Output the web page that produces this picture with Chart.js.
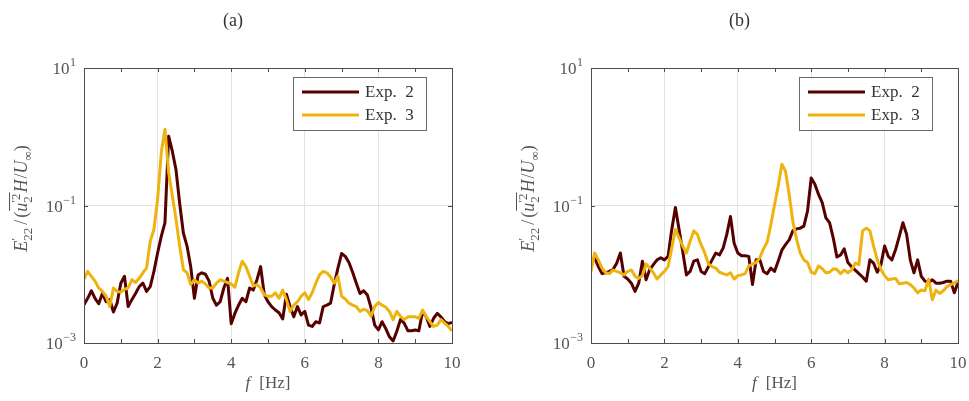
<!DOCTYPE html>
<html>
<head>
<meta charset="utf-8">
<script src="https://cdn.jsdelivr.net/npm/chart.js@4.4.1/dist/chart.umd.min.js"></script>
<style>
  html, body { margin: 0; padding: 0; background: #ffffff; }
  #wrap { position: relative; width: 969px; height: 401px; overflow: hidden; }
  canvas { position: absolute; top: 0; }
</style>
</head>
<body>
<div id="wrap">
  <canvas id="panelA" width="484" height="401" style="left:0px"></canvas>
  <canvas id="panelB" width="485" height="401" style="left:484px"></canvas>
</div>
<script>
// Frequency axis [Hz]
const freq = [
  0.0, 0.1, 0.2, 0.3, 0.4, 0.5, 0.6, 0.7, 0.8, 0.9,
  1.0, 1.1, 1.2, 1.3, 1.4, 1.5, 1.6, 1.7, 1.8, 1.9,
  2.0, 2.1, 2.2, 2.3, 2.4, 2.5, 2.6, 2.7, 2.8, 2.9,
  3.0, 3.1, 3.2, 3.3, 3.4, 3.5, 3.6, 3.7, 3.8, 3.9,
  4.0, 4.1, 4.2, 4.3, 4.4, 4.5, 4.6, 4.7, 4.8, 4.9,
  5.0, 5.1, 5.2, 5.3, 5.4, 5.5, 5.6, 5.7, 5.8, 5.9,
  6.0, 6.1, 6.2, 6.3, 6.4, 6.5, 6.6, 6.7, 6.8, 6.9,
  7.0, 7.1, 7.2, 7.3, 7.4, 7.5, 7.6, 7.7, 7.8, 7.9,
  8.0, 8.1, 8.2, 8.3, 8.4, 8.5, 8.6, 8.7, 8.8, 8.9,
  9.0, 9.1, 9.2, 9.3, 9.4, 9.5, 9.6, 9.7, 9.8, 9.9,
  10.0
];

// (a) normalised spectra
const specA_exp2 = [
  0.00359, 0.00447, 0.00575, 0.00447, 0.00372, 0.00525, 0.00398, 0.00427, 0.00282, 0.00380,
  0.00741, 0.00933, 0.00339, 0.00427, 0.00525, 0.00661, 0.00741, 0.00562, 0.00661, 0.0110,
  0.0204, 0.0355, 0.0562, 1.02, 0.617, 0.331, 0.107, 0.0398, 0.0257, 0.0129,
  0.00447, 0.00977, 0.0105, 0.0100, 0.00794, 0.00447, 0.00355, 0.00398, 0.00631, 0.00871,
  0.00191, 0.00269, 0.00355, 0.00447, 0.00398, 0.00631, 0.00589, 0.00832, 0.0129, 0.00501,
  0.00398, 0.00339, 0.00302, 0.00275, 0.00224, 0.00513, 0.00339, 0.00240, 0.00339, 0.00257,
  0.00288, 0.00182, 0.00174, 0.00204, 0.00195, 0.00339, 0.00355, 0.00380, 0.00708, 0.0123,
  0.0200, 0.0182, 0.0148, 0.0107, 0.00741, 0.00525, 0.00575, 0.00501, 0.00324, 0.00182,
  0.00155, 0.00204, 0.00162, 0.00123, 0.00107, 0.00148, 0.00219, 0.00195, 0.00151, 0.00151,
  0.00155, 0.00151, 0.00288, 0.00240, 0.00174, 0.00229, 0.00269, 0.00240, 0.00204, 0.00191,
  0.00200
];
const specA_exp3 = [
  0.00851, 0.0110, 0.00933, 0.00794, 0.00631, 0.00562, 0.00479, 0.00339, 0.00631, 0.00562,
  0.00550, 0.00603, 0.00631, 0.00832, 0.00759, 0.00871, 0.0105, 0.0123, 0.0302, 0.0447,
  0.123, 0.589, 1.29, 0.302, 0.138, 0.0631, 0.0257, 0.0117, 0.0105, 0.00708,
  0.00832, 0.00741, 0.00794, 0.00724, 0.00631, 0.00631, 0.00741, 0.00832, 0.00794, 0.00759,
  0.00724, 0.00646, 0.0105, 0.0155, 0.0129, 0.00933, 0.00676, 0.00708, 0.00631, 0.00501,
  0.00479, 0.00479, 0.00537, 0.00447, 0.00589, 0.00427, 0.00288, 0.00355, 0.00398, 0.00479,
  0.00537, 0.00427, 0.00537, 0.00741, 0.00977, 0.0110, 0.0105, 0.00912, 0.00741, 0.00933,
  0.00479, 0.00437, 0.00380, 0.00355, 0.00339, 0.00288, 0.00309, 0.00295, 0.00245, 0.00339,
  0.00389, 0.00355, 0.00331, 0.00288, 0.00219, 0.00288, 0.00245, 0.00219, 0.00240, 0.00240,
  0.00240, 0.00229, 0.00302, 0.00240, 0.00204, 0.00174, 0.00182, 0.00219, 0.00195, 0.00174,
  0.00151
];

// (b) normalised spectra
const specB_exp2 = [
  0.0155, 0.0174, 0.0129, 0.0102, 0.0105, 0.0110, 0.0117, 0.0145, 0.0204, 0.00933,
  0.00851, 0.00741, 0.00562, 0.00741, 0.0155, 0.00832, 0.0117, 0.0138, 0.0162, 0.0174,
  0.0162, 0.0182, 0.0447, 0.0933, 0.0447, 0.0214, 0.00977, 0.0110, 0.0155, 0.0162,
  0.0110, 0.0102, 0.0129, 0.0162, 0.0204, 0.0191, 0.0240, 0.0380, 0.0692, 0.0282,
  0.0204, 0.0186, 0.0186, 0.0182, 0.00708, 0.0162, 0.0162, 0.0110, 0.0102, 0.0123,
  0.0110, 0.0155, 0.0224, 0.0269, 0.0316, 0.0427, 0.0457, 0.0468, 0.0501, 0.0832,
  0.251, 0.204, 0.145, 0.110, 0.0661, 0.0562, 0.0339, 0.0178, 0.0191, 0.0234,
  0.0148, 0.0129, 0.0115, 0.0102, 0.00912, 0.00794, 0.0162, 0.0145, 0.0107, 0.0138,
  0.0257, 0.0182, 0.0162, 0.0229, 0.0355, 0.0562, 0.0380, 0.0162, 0.0105, 0.0162,
  0.00933, 0.00794, 0.00759, 0.00832, 0.00741, 0.00741, 0.00759, 0.00794, 0.00794, 0.00537,
  0.00759
];
const specB_exp3 = [
  0.0110, 0.0204, 0.0162, 0.0123, 0.0105, 0.0102, 0.0115, 0.0110, 0.0105, 0.00977,
  0.0110, 0.0115, 0.00933, 0.00871, 0.00955, 0.0141, 0.0123, 0.0105, 0.00851, 0.00977,
  0.0110, 0.0129, 0.0240, 0.0447, 0.0339, 0.0257, 0.0204, 0.0302, 0.0427, 0.0380,
  0.0269, 0.0204, 0.0141, 0.0129, 0.0123, 0.0107, 0.0102, 0.00977, 0.0105, 0.00851,
  0.00955, 0.00977, 0.0102, 0.0132, 0.0141, 0.0148, 0.0174, 0.0234, 0.0295, 0.0525,
  0.102, 0.191, 0.398, 0.316, 0.145, 0.0589, 0.0324, 0.0204, 0.0162, 0.0148,
  0.0107, 0.0102, 0.0132, 0.0120, 0.0105, 0.0107, 0.0120, 0.0117, 0.0102, 0.0115,
  0.0105, 0.0115, 0.0145, 0.0138, 0.0427, 0.0468, 0.0427, 0.0257, 0.0162, 0.0117,
  0.00955, 0.00832, 0.00851, 0.00871, 0.00724, 0.00741, 0.00759, 0.00708, 0.00631, 0.00537,
  0.00589, 0.00575, 0.00851, 0.00427, 0.00589, 0.00525, 0.00575, 0.00661, 0.00708, 0.00741,
  0.00813
];

const seriesLabels = ['Exp. 2', 'Exp. 3'];
const seriesColors = ['#560000', '#EDB40F'];
const yTickValues = [1e-3, 1e-1, 1e1];
const yTickExponents = ['\u22123', '\u22121', '1'];
const xTickValues = [0, 2, 4, 6, 8, 10];

const SERIF = '"Liberation Serif", "DejaVu Serif", serif';
const AXIS_GREY = '#4d4d4d';
const TEXT_GREY = '#555555';
const GRID_GREY = '#e2e2e2';

// Writes a sequence of text runs (with sub/superscripts and an optional overline)
function drawRuns(ctx, runs, size) {
  const small = Math.round(size * 0.7);
  const widths = runs.map(r => {
    if (r.stack) {
      ctx.font = small + 'px ' + SERIF;
      return Math.max(...r.stack.map(s => ctx.measureText(s.t).width)) + 1;
    }
    ctx.font = (r.it ? 'italic ' : '') + (r.small ? small : size) + 'px ' + SERIF;
    return ctx.measureText(r.t).width + (r.gap || 0) + (r.pre || 0);
  });
  const total = widths.reduce((a, b) => a + b, 0);
  let x = -total / 2;
  let barStart = null;
  runs.forEach((r, k) => {
    if (r.barStart) barStart = x;
    if (r.stack) {
      ctx.font = small + 'px ' + SERIF;
      r.stack.forEach(s => ctx.fillText(s.t, x, s.dy));
    } else {
      ctx.font = (r.it ? 'italic ' : '') + (r.small ? small : size) + 'px ' + SERIF;
      ctx.fillText(r.t, x + (r.pre || 0), r.dy || 0);
    }
    x += widths[k];
    if (r.barEnd && barStart !== null) {
      ctx.fillRect(barStart + 1, -size * 1.0, x - barStart - 1, 1);
      barStart = null;
    }
  });
}

const yTitleRuns = [
  { t: 'E', it: true },
  { stack: [{ t: '\u2032', dy: -7 }, { t: '22', dy: 5 }] },
  { t: '/', gap: 2, pre: 2 },
  { t: '(' },
  { t: 'u', it: true, barStart: true },
  { stack: [{ t: '\u20322', dy: -7 }, { t: '2', dy: 5 }], barEnd: true },
  { t: 'H', it: true, gap: 1 },
  { t: '/' },
  { t: 'U', it: true },
  { t: '\u221E', small: true, dy: 5 },
  { t: ')' }
];

// Box, inner ticks, tick labels, titles and legend around the plotting area
const framePlugin = {
  id: 'frame',
  afterDatasetsDraw(chart, args, opts) {
    const { ctx, chartArea: a, scales } = chart;
    const xs = scales.x, ys = scales.y;
    ctx.save();
    // inner tick marks on all four sides
    ctx.strokeStyle = AXIS_GREY;
    ctx.lineWidth = 1;
    ctx.beginPath();
    for (let v = 0; v <= 10; v += 1) {
      const px = Math.round(xs.getPixelForValue(v)) + 0.5;
      ctx.moveTo(px, a.bottom); ctx.lineTo(px, a.bottom - 4);
      ctx.moveTo(px, a.top); ctx.lineTo(px, a.top + 4);
    }
    yTickValues.forEach(v => {
      const py = Math.round(ys.getPixelForValue(v)) + 0.5;
      ctx.moveTo(a.left, py); ctx.lineTo(a.left + 4, py);
      ctx.moveTo(a.right, py); ctx.lineTo(a.right - 4, py);
    });
    ctx.stroke();
    // axes box
    ctx.strokeRect(Math.round(a.left) + 0.5, Math.round(a.top) + 0.5,
      Math.round(a.right - a.left), Math.round(a.bottom - a.top));

    // x tick labels
    ctx.fillStyle = TEXT_GREY;
    ctx.font = '17px ' + SERIF;
    ctx.textAlign = 'center';
    ctx.textBaseline = 'alphabetic';
    xs.ticks.forEach(t => {
      if (xTickValues.includes(t.value)) {
        ctx.fillText(String(t.value), xs.getPixelForValue(t.value), a.bottom + 25);
      }
    });
    // y tick labels as powers of ten
    ys.ticks.forEach(t => {
      const k = yTickValues.indexOf(t.value);
      if (k < 0) return;
      const py = ys.getPixelForValue(t.value);
      ctx.font = '12px ' + SERIF;
      ctx.textAlign = 'right';
      const ew = ctx.measureText(yTickExponents[k]).width;
      const right = a.left - 8;
      ctx.fillText(yTickExponents[k], right, py - 2);
      ctx.font = '17px ' + SERIF;
      ctx.fillText('10', right - ew - 0.5, py + 6);
    });

    // x axis title
    ctx.textAlign = 'left';
    const cx = (a.left + a.right) / 2;
    ctx.font = 'italic 17px ' + SERIF;
    const fw = ctx.measureText('f').width;
    ctx.font = '17px ' + SERIF;
    const hw = ctx.measureText('[Hz]').width;
    const x0 = cx - (fw + 9 + hw) / 2;
    ctx.font = 'italic 17px ' + SERIF;
    ctx.fillText('f', x0, a.bottom + 45);
    ctx.font = '17px ' + SERIF;
    ctx.fillText('[Hz]', x0 + fw + 9, a.bottom + 45);

    // y axis title, rotated
    ctx.save();
    ctx.translate(a.left - 57, (a.top + a.bottom) / 2 - 7);
    ctx.rotate(-Math.PI / 2);
    ctx.fillStyle = TEXT_GREY;
    drawRuns(ctx, yTitleRuns, 18);
    ctx.restore();

    // panel letter
    ctx.fillStyle = '#333333';
    ctx.font = '18px ' + SERIF;
    ctx.textAlign = 'center';
    ctx.fillText(opts.letter, cx - 35, 26);

    // legend
    const lx = a.right - 159, ly = a.top + 9, lw = 133, lh = 53;
    ctx.fillStyle = '#ffffff';
    ctx.fillRect(lx, ly, lw, lh);
    ctx.strokeStyle = '#6a6a6a';
    ctx.lineWidth = 1;
    ctx.strokeRect(lx + 0.5, ly + 0.5, lw, lh);
    chart.data.datasets.forEach((ds, i) => {
      const yy = ly + 15 + i * 23;
      ctx.strokeStyle = ds.borderColor;
      ctx.lineWidth = 3;
      ctx.beginPath();
      ctx.moveTo(lx + 9, yy); ctx.lineTo(lx + 66, yy);
      ctx.stroke();
      ctx.fillStyle = '#333333';
      ctx.font = '17px ' + SERIF;
      ctx.textAlign = 'left';
      ctx.fillText(ds.label.replace(' ', '\u2002'), lx + 72, yy + 5);
    });
    ctx.restore();
  }
};

function makePanel(canvasId, letter, exp2, exp3, padLeft, padRight) {
  const series = [exp2, exp3];
  return new Chart(document.getElementById(canvasId), {
    type: 'line',
    data: {
      datasets: series.map((vals, s) => ({
        label: seriesLabels[s],
        data: freq.map((f, i) => ({ x: f, y: vals[i] })),
        borderColor: seriesColors[s],
        borderWidth: 3,
        pointRadius: 0,
        tension: 0,
        fill: false,
        borderJoinStyle: 'round',
        order: 1 - s
      }))
    },
    options: {
      responsive: false,
      animation: false,
      devicePixelRatio: 1,
      layout: { padding: { left: padLeft, right: padRight, top: 68, bottom: 58 } },
      plugins: {
        legend: { display: false },
        tooltip: { enabled: false },
        frame: { letter: letter }
      },
      scales: {
        x: {
          type: 'linear', min: 0, max: 10,
          ticks: { display: false, stepSize: 1 },
          grid: {
            drawTicks: false,
            color: c => (c.tick && c.tick.value % 2 === 0 && c.tick.value > 0 && c.tick.value < 10) ? GRID_GREY : 'rgba(0,0,0,0)'
          },
          border: { display: false }
        },
        y: {
          type: 'logarithmic', min: 1e-3, max: 1e1,
          afterBuildTicks: s => { s.ticks = yTickValues.map(v => ({ value: v })); },
          ticks: { display: false },
          grid: {
            drawTicks: false,
            color: c => (c.tick && c.tick.value === 1e-1) ? GRID_GREY : 'rgba(0,0,0,0)'
          },
          border: { display: false }
        }
      }
    },
    plugins: [framePlugin]
  });
}

makePanel('panelA', '(a)', specA_exp2, specA_exp3, 84, 32);
makePanel('panelB', '(b)', specB_exp2, specB_exp3, 107, 11);
</script>
</body>
</html>
